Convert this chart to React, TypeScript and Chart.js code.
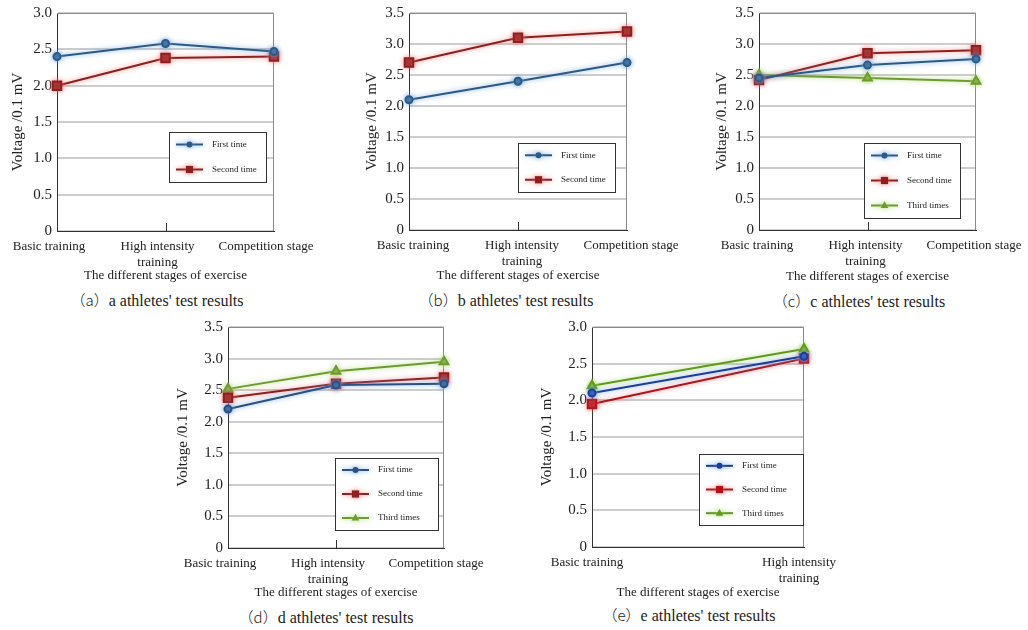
import React, { useEffect, useRef } from 'react';
import { Chart, registerables } from 'chart.js';

Chart.register(...registerables);

const FONT = "'Liberation Serif', serif";
const CJK_FONT = "'Noto Sans CJK SC', 'Liberation Serif', serif";

// ---------- data ----------
const stagesThree: (string | string[])[] = ['Basic training', ['High intensity', 'training'], 'Competition stage'];
const stagesTwo: (string | string[])[] = ['Basic training', ['High intensity', 'training']];

const seriesNames = ['First time', 'Second time', 'Third times'];

const aFirst = [2.4, 2.58, 2.47];
const aSecond = [2.0, 2.38, 2.4];

const bFirst = [2.1, 2.4, 2.7];
const bSecond = [2.7, 3.1, 3.2];

const cFirst = [2.45, 2.66, 2.76];
const cSecond = [2.42, 2.85, 2.9];
const cThird = [2.5, 2.45, 2.4];

const dFirst = [2.2, 2.58, 2.6];
const dSecond = [2.38, 2.6, 2.7];
const dThird = [2.52, 2.8, 2.95];

const eFirst = [2.1, 2.6];
const eSecond = [1.95, 2.57];
const eThird = [2.2, 2.7];

const yAxisTitle = 'Voltage /0.1 mV';
const xAxisTitle = 'The different stages of exercise';
const captionTags = ['（a）', '（b）', '（c）', '（d）', '（e）'];
const captionTexts = [
  'a athletes\' test results',
  'b athletes\' test results',
  'c athletes\' test results',
  'd athletes\' test results',
  'e athletes\' test results',
];

// ---------- styles ----------
type Style = { color: string; glow: string; shape: 'circle' | 'rect' | 'triangle'; radius: number };
const blue: Style = { color: '#2d5a85', glow: 'rgba(110,165,225,0.9)', shape: 'circle', radius: 3.5 };
const red: Style = { color: '#8e1f1f', glow: 'rgba(240,110,110,0.8)', shape: 'rect', radius: 6 };
const green: Style = { color: '#6e9a30', glow: 'rgba(170,215,110,0.9)', shape: 'triangle', radius: 5 };
const blueE: Style = { ...blue, color: '#1c3d9e' };
const redE: Style = { ...red, color: '#b0141a' };
const greenE: Style = { ...green, color: '#5f9a1c' };

type Spec = {
  left: number; top: number; width: number;
  area: { l: number; t: number; r: number; b: number };
  yMax: number;
  labels: (string | string[])[];
  labelShift: number;
  series: { name: string; values: number[]; style: Style }[];
  legend: { x: number; y: number; w: number; h: number };
  yTitleX: number; xTitleY: number;
  tag: string; caption: string; captionX: number; captionY: number;
};

const specs: Spec[] = [
  {
    left: 0, top: 0, width: 340, area: { l: 57, t: 13, r: 274, b: 231 }, yMax: 3.0, labels: stagesThree, labelShift: -8,
    series: [{ name: seriesNames[0], values: aFirst, style: blue }, { name: seriesNames[1], values: aSecond, style: red }],
    legend: { x: 169, y: 132, w: 97, h: 50 }, yTitleX: 18, xTitleY: 275,
    tag: captionTags[0], caption: captionTexts[0], captionX: 157, captionY: 300,
  },
  {
    left: 340, top: 0, width: 350, area: { l: 409, t: 13, r: 627, b: 230 }, yMax: 3.5, labels: stagesThree, labelShift: 4,
    series: [{ name: seriesNames[0], values: bFirst, style: blue }, { name: seriesNames[1], values: bSecond, style: red }],
    legend: { x: 518, y: 143, w: 97, h: 49 }, yTitleX: 372, xTitleY: 275,
    tag: captionTags[1], caption: captionTexts[1], captionX: 506, captionY: 300,
  },
  {
    left: 690, top: 0, width: 338, area: { l: 759, t: 13, r: 976, b: 230 }, yMax: 3.5, labels: stagesThree, labelShift: -2,
    series: [
      { name: seriesNames[0], values: cFirst, style: blue },
      { name: seriesNames[1], values: cSecond, style: red },
      { name: seriesNames[2], values: cThird, style: green },
    ],
    legend: { x: 864, y: 143, w: 96, h: 75 }, yTitleX: 722, xTitleY: 276,
    tag: captionTags[2], caption: captionTexts[2], captionX: 859, captionY: 301,
  },
  {
    left: 170, top: 310, width: 340, area: { l: 228, t: 327, r: 444, b: 548 }, yMax: 3.5, labels: stagesThree, labelShift: -8,
    series: [
      { name: seriesNames[0], values: dFirst, style: { ...blue, color: '#2a4f80' } },
      { name: seriesNames[1], values: dSecond, style: red },
      { name: seriesNames[2], values: dThird, style: green },
    ],
    legend: { x: 335, y: 458, w: 103, h: 72 }, yTitleX: 183, xTitleY: 592,
    tag: captionTags[3], caption: captionTexts[3], captionX: 326, captionY: 617,
  },
  {
    left: 530, top: 310, width: 330, area: { l: 592, t: 327, r: 804, b: 547 }, yMax: 3.0, labels: stagesTwo, labelShift: -5,
    series: [
      { name: seriesNames[0], values: eFirst, style: blueE },
      { name: seriesNames[1], values: eSecond, style: redE },
      { name: seriesNames[2], values: eThird, style: greenE },
    ],
    legend: { x: 699, y: 454, w: 104, h: 71 }, yTitleX: 547, xTitleY: 592,
    tag: captionTags[4], caption: captionTexts[4], captionX: 689, captionY: 615,
  },
];

// ---------- plugins ----------
function drawMarker(ctx: CanvasRenderingContext2D, shape: string, x: number, y: number, r: number) {
  ctx.beginPath();
  if (shape === 'circle') {
    ctx.arc(x, y, r, 0, Math.PI * 2);
  } else if (shape === 'rect') {
    const s = r * Math.SQRT1_2;
    ctx.rect(x - s, y - s, 2 * s, 2 * s);
  } else {
    ctx.moveTo(x, y - r);
    ctx.lineTo(x - r * 0.9, y + r * 0.6);
    ctx.lineTo(x + r * 0.9, y + r * 0.6);
    ctx.closePath();
  }
  ctx.fill();
}

const glowPlugin = {
  id: 'glow',
  beforeDatasetDraw(chart: any, args: any) {
    const ds = chart.data.datasets[args.index];
    const ctx = chart.ctx;
    ctx.save();
    ctx.shadowColor = ds.glow;
    ctx.shadowBlur = 5;
  },
  afterDatasetDraw(chart: any) {
    chart.ctx.restore();
  },
};

const framePlugin = {
  id: 'frame',
  beforeDatasetsDraw(chart: any) {
    const { ctx, chartArea } = chart;
    const { left, right, top, bottom } = chartArea;
    ctx.save();
    ctx.strokeStyle = '#8a8a8a';
    ctx.lineWidth = 1;
    ctx.beginPath();
    ctx.moveTo(left, top + 0.5);
    ctx.lineTo(right - 0.5, top + 0.5);
    ctx.lineTo(right - 0.5, bottom);
    ctx.stroke();
    const xs = chart.scales.x;
    ctx.strokeStyle = '#333';
    const n = chart.data.labels.length;
    for (let i = 1; i < n - 1; i++) {
      const px = Math.round(xs.getPixelForValue(i)) + 0.5;
      ctx.beginPath();
      ctx.moveTo(px, bottom);
      ctx.lineTo(px, bottom - 8);
      ctx.stroke();
    }
    ctx.restore();
  },
};

const boxLegendPlugin = {
  id: 'boxLegend',
  afterDraw(chart: any, _args: any, opts: any) {
    if (!opts || !opts.box) return;
    const { ctx } = chart;
    const { x, y, w, h } = opts.box;
    ctx.save();
    ctx.strokeStyle = '#333';
    ctx.lineWidth = 1;
    ctx.fillStyle = '#fff';
    ctx.fillRect(x, y, w, h);
    ctx.strokeRect(Math.round(x) + 0.5, Math.round(y) + 0.5, w, h);
    const dss = chart.data.datasets;
    const n = dss.length;
    dss.forEach((ds: any, i: number) => {
      const ry = y + (h * (i + 0.5)) / n;
      ctx.save();
      ctx.shadowColor = ds.glow;
      ctx.shadowBlur = 5;
      ctx.strokeStyle = ds.borderColor;
      ctx.fillStyle = ds.borderColor;
      ctx.lineWidth = 2;
      ctx.beginPath();
      ctx.moveTo(x + 7, ry);
      ctx.lineTo(x + 34, ry);
      ctx.stroke();
      drawMarker(ctx, ds.pointStyle, x + 20.5, ry, ds.pointRadius * 0.85);
      ctx.restore();
      ctx.fillStyle = '#222';
      ctx.font = `9px ${FONT}`;
      ctx.textBaseline = 'middle';
      ctx.textAlign = 'left';
      ctx.fillText(ds.label, x + 43, ry);
    });
    ctx.restore();
  },
};

// ---------- component ----------
function Panel({ spec }: { spec: Spec }) {
  const ref = useRef<HTMLCanvasElement>(null);
  const xTitleLH = 13 * 1.2;
  const xH = Math.round(spec.xTitleY - spec.area.b + xTitleLH / 2);
  const height = spec.area.b - spec.top + xH;

  useEffect(() => {
    if (!ref.current) return;
    const chart = new Chart(ref.current, {
      type: 'line',
      data: {
        labels: spec.labels as any,
        datasets: spec.series.map((s) => ({
          label: s.name,
          data: s.values,
          borderColor: s.style.color,
          backgroundColor: s.style.color,
          pointBackgroundColor: s.style.color,
          pointBorderColor: s.style.color,
          pointStyle: s.style.shape,
          pointRadius: s.style.radius,
          borderWidth: 2,
          tension: 0,
          fill: false,
          glow: s.style.glow,
          clip: false as any,
        })) as any,
      },
      options: {
        animation: false,
        responsive: false,
        devicePixelRatio: 1,
        layout: {
          padding: {
            top: spec.area.t - spec.top,
            right: spec.left + spec.width - spec.area.r,
            left: 0,
            bottom: 0,
          },
        },
        scales: {
          x: {
            type: 'category',
            offset: false,
            grid: { display: false, drawTicks: false },
            border: { display: true, color: '#333', width: 1 },
            ticks: {
              color: '#222',
              font: { family: FONT, size: 13 },
              padding: 8,
              labelOffset: spec.labelShift,
              maxRotation: 0,
              minRotation: 0,
              autoSkip: false,
            },
            title: {
              display: true,
              text: xAxisTitle,
              color: '#222',
              font: { family: FONT, size: 13 },
              padding: { top: 0, bottom: 0 },
            },
            afterFit: (s: any) => {
              s.height = xH;
              s.paddingLeft = 0;
              s.paddingRight = 0;
            },
          },
          y: {
            min: 0,
            max: spec.yMax,
            grid: { color: '#cdcdcd', lineWidth: 2, drawTicks: false },
            border: { display: true, color: '#333', width: 1 },
            ticks: {
              stepSize: 0.5,
              color: '#222',
              font: { family: FONT, size: 15 },
              padding: 5,
              callback: (v: any) => (Number(v) === 0 ? '0' : Number(v).toFixed(1)),
            },
            title: {
              display: true,
              text: yAxisTitle,
              color: '#222',
              font: { family: FONT, size: 15 },
              padding: { top: spec.yTitleX - spec.left - 9, bottom: 0 },
            },
            afterFit: (s: any) => {
              s.width = spec.area.l - spec.left;
              s.paddingTop = 0;
              s.paddingBottom = 0;
            },
          },
        },
        plugins: {
          legend: { display: false },
          tooltip: { enabled: false },
          title: { display: false },
          boxLegend: {
            box: {
              x: spec.legend.x - spec.left,
              y: spec.legend.y - spec.top,
              w: spec.legend.w,
              h: spec.legend.h,
            },
          },
        } as any,
      },
      plugins: [glowPlugin, framePlugin, boxLegendPlugin],
    });
    return () => chart.destroy();
  }, [spec]);

  return (
    <>
      <canvas
        ref={ref}
        width={spec.width}
        height={height}
        style={{ position: 'absolute', left: spec.left, top: spec.top, width: spec.width, height }}
      />
      <div
        style={{
          position: 'absolute',
          left: spec.captionX - 150,
          width: 300,
          top: spec.captionY - 10,
          height: 20,
          lineHeight: '20px',
          textAlign: 'center',
          fontFamily: FONT,
          fontSize: 16,
          color: '#222',
          whiteSpace: 'nowrap',
        }}
      >
        <span style={{ fontFamily: CJK_FONT, fontSize: 15, fontWeight: 300 }}>{spec.tag}</span>
        {spec.caption}
      </div>
    </>
  );
}

export default function App() {
  return (
    <div style={{ position: 'absolute', left: 0, top: 0, width: 1028, height: 630, background: '#fff', overflow: 'hidden' }}>
      {specs.map((s, i) => (
        <Panel key={i} spec={s} />
      ))}
    </div>
  );
}
